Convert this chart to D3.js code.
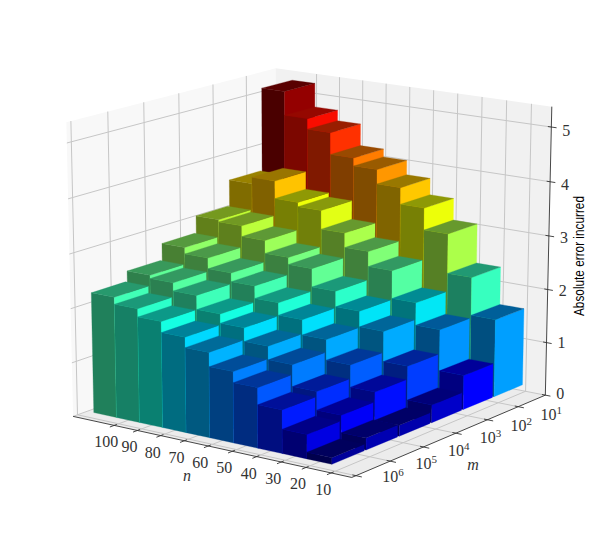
<!DOCTYPE html>
<html lang="en">
<head>
<meta charset="utf-8">
<title>Absolute error incurred</title>
<script src="https://d3js.org/d3.v7.min.js"></script>
<style>
  html, body { margin: 0; padding: 0; background: #fff; }
  svg { display: block; }
  text { font-family: "Liberation Serif", serif; fill: #333; }
</style>
</head>
<body>
<div id="my_dataviz"></div>
<script>
// chart values
var nValues = [10, 20, 30, 40, 50, 60, 70, 80, 90, 100];
var mValues = [1e6, 1e5, 1e4, 1e3, 1e2, 1e1];
var zTicks = [0, 1, 2, 3, 4, 5];

// one array per m, values in the order of nValues
var errM1e6 = [0.12, 0.44, 0.79, 1.10, 1.30, 1.56, 1.75, 1.95, 2.10, 2.23];
var errM1e5 = [0.22, 0.54, 0.88, 1.28, 1.53, 1.78, 1.95, 2.21, 2.36, 2.42];
var errM1e4 = [0.20, 0.72, 1.13, 1.51, 1.79, 2.02, 2.25, 2.41, 2.61, 2.73];
var errM1e3 = [0.33, 0.96, 1.52, 1.81, 2.10, 2.44, 2.57, 2.81, 3.01, 3.05];
var errM1e2 = [0.64, 1.41, 1.83, 2.35, 2.63, 2.90, 3.25, 3.33, 3.66, 3.54];
var errM1e1 = [1.46, 2.17, 2.91, 3.32, 3.63, 3.90, 4.05, 4.46, 4.66, 5.11];
var errors = [errM1e6, errM1e5, errM1e4, errM1e3, errM1e2, errM1e1];

var width = 607, height = 539;

// box coordinates run 0..1, u along n, v along m, w along the error
var uScale = d3.scaleLinear().domain([10, 100]).range([0.07, 0.845]);
var vScale = d3.scaleLog().domain([1e6, 1e1]).range([0.02, 0.85]);
var wScale = d3.scaleLinear().domain([0, 5.37]).range([0, 1]);
var screenX = d3.scaleLinear().domain([-1, 1]).range([311.7 - 342.7, 311.7 + 342.7]);
var screenY = d3.scaleLinear().domain([-1, 1]).range([262 + 303, 262 - 303]);

var barDu = uScale(20) - uScale(10);
var barDv = 0.157;
var barU0 = 0.045, barV0 = 0.046;

// camera
var elev = 16 * Math.PI / 180, phi = 36 * Math.PI / 180, dist = 10;
var se = Math.sin(elev), ce = Math.cos(elev), sp = Math.sin(phi), cp = Math.cos(phi);

function project(u, v, w) {
  var x = u - 0.5, y = v - 0.5, z = w - 0.5;
  var t = dist - (-sp * ce * x - cp * ce * y + se * z);
  var a = (-cp * x + sp * y) * dist / t;
  var b = (se * sp * x + se * cp * y + ce * z) * dist / t;
  return [screenX(a), screenY(b)];
}

var line = d3.line();
function poly(points) {
  return line(points.map(function(p) { return project(p[0], p[1], p[2]); })) + "Z";
}

// jet colormap
var jetR = d3.scaleLinear().domain([0, 0.35, 0.66, 0.89, 1]).range([0, 0, 1, 1, 0.5]);
var jetG = d3.scaleLinear().domain([0, 0.125, 0.375, 0.64, 0.91, 1]).range([0, 0, 1, 1, 0, 0]);
var jetB = d3.scaleLinear().domain([0, 0.11, 0.34, 0.65, 1]).range([0.5, 1, 1, 0, 0]);
var colorNorm = d3.scaleLinear().domain([0, 5.2]).range([0, 1]);

function jet(value, shade) {
  var t = colorNorm(value);
  return d3.rgb(255 * jetR(t) * shade, 255 * jetG(t) * shade, 255 * jetB(t) * shade).formatRgb();
}

var svg = d3.select("#my_dataviz").append("svg")
    .attr("width", width)
    .attr("height", height);

// walls and floor
var panes = [
  {fill: "#f8f8f8", pts: [[1, 0, 0], [1, 1, 0], [1, 1, 1], [1, 0, 1]]},
  {fill: "#f1f1f1", pts: [[0, 1, 0], [1, 1, 0], [1, 1, 1], [0, 1, 1]]},
  {fill: "#ececec", pts: [[0, 0, 0], [1, 0, 0], [1, 1, 0], [0, 1, 0]]}
];
svg.append("g").selectAll("path").data(panes).enter().append("path")
    .attr("d", function(d) { return poly(d.pts); })
    .attr("fill", function(d) { return d.fill; });

// grid
var gridLines = [];
nValues.forEach(function(n) {
  var u = uScale(n);
  gridLines.push([[u, 0, 0], [u, 1, 0]]);
  gridLines.push([[u, 1, 0], [u, 1, 1]]);
});
mValues.forEach(function(m) {
  var v = vScale(m);
  gridLines.push([[0, v, 0], [1, v, 0]]);
  gridLines.push([[1, v, 0], [1, v, 1]]);
});
zTicks.forEach(function(z) {
  var w = wScale(z);
  gridLines.push([[1, 0, w], [1, 1, w]]);
  gridLines.push([[0, 1, w], [1, 1, w]]);
});
svg.append("g").selectAll("path").data(gridLines).enter().append("path")
    .attr("d", function(d) { return line(d.map(function(p) { return project(p[0], p[1], p[2]); })); })
    .attr("fill", "none")
    .attr("stroke", "#c6c6c6")
    .attr("stroke-width", 1);

// axes
var axisLines = [
  [[0, 0, 0], [1, 0, 0]],
  [[0, 0, 0], [0, 1, 0]],
  [[0, 1, 0], [0, 1, 1]]
];
nValues.forEach(function(n) {
  axisLines.push([[uScale(n), -0.02, 0], [uScale(n), 0.012, 0]]);
});
mValues.forEach(function(m) {
  axisLines.push([[-0.02, vScale(m), 0], [0.012, vScale(m), 0]]);
});
zTicks.forEach(function(z) {
  axisLines.push([[-0.018, 1, wScale(z)], [0.012, 1, wScale(z)]]);
});
svg.append("g").selectAll("path").data(axisLines).enter().append("path")
    .attr("d", function(d) { return line(d.map(function(p) { return project(p[0], p[1], p[2]); })); })
    .attr("fill", "none")
    .attr("stroke", "#333")
    .attr("stroke-width", 0.9);

// bars, far ones first
var cells = [];
d3.range(nValues.length - 1, -1, -1).forEach(function(a) {
  d3.range(mValues.length - 1, -1, -1).forEach(function(b) {
    cells.push({n: nValues[a], m: mValues[b], value: errors[b][a]});
  });
});

var bars = svg.append("g").selectAll("g").data(cells).enter().append("g");

function corners(d) {
  var u0 = uScale(d.n) + barU0, u1 = u0 + barDu;
  var v0 = vScale(d.m) + barV0, v1 = v0 + barDv;
  var w = wScale(d.value);
  return {u0: u0, u1: u1, v0: v0, v1: v1, w: w};
}

function addFace(shade, pointsOf) {
  bars.append("path")
      .attr("d", function(d) { return poly(pointsOf(corners(d))); })
      .attr("fill", function(d) { return jet(d.value, shade); })
      .attr("stroke", function(d) { return jet(d.value, shade); })
      .attr("stroke-width", 0.3);
}

// face towards the left of the picture
addFace(0.5, function(c) { return [[c.u0, c.v0, 0], [c.u1, c.v0, 0], [c.u1, c.v0, c.w], [c.u0, c.v0, c.w]]; });
// face towards the right, full colour
addFace(1, function(c) { return [[c.u0, c.v0, 0], [c.u0, c.v1, 0], [c.u0, c.v1, c.w], [c.u0, c.v0, c.w]]; });
// top
addFace(0.6, function(c) { return [[c.u0, c.v0, c.w], [c.u1, c.v0, c.w], [c.u1, c.v1, c.w], [c.u0, c.v1, c.w]]; });

// tick labels
svg.append("g").selectAll("text").data(nValues).enter().append("text")
    .attr("x", function(n) { return project(uScale(n), 0, 0)[0] - 8; })
    .attr("y", function(n) { return project(uScale(n), 0, 0)[1] + 22; })
    .attr("text-anchor", "middle")
    .attr("font-size", 16)
    .text(function(n) { return n; });

var mLabels = svg.append("g").selectAll("text").data(mValues).enter().append("text")
    .attr("x", function(m) { return project(0, vScale(m), 0)[0] + 33 + 0.8 * (Math.log10(m) - 1); })
    .attr("y", function(m) { return project(0, vScale(m), 0)[1] + 13 - 1.4 * (Math.log10(m) - 1); })
    .attr("text-anchor", "middle")
    .attr("font-size", 16);
mLabels.append("tspan").text("10");
mLabels.append("tspan")
    .attr("dy", -6)
    .attr("font-size", 11)
    .text(function(m) { return Math.round(Math.log10(m)); });

svg.append("g").selectAll("text").data(zTicks).enter().append("text")
    .attr("x", function(z) { return project(0, 1, wScale(z))[0] + 15; })
    .attr("y", function(z) { return project(0, 1, wScale(z))[1] + 4 + z; })
    .attr("text-anchor", "middle")
    .attr("font-size", 16)
    .text(function(z) { return z; });

// axis labels
svg.append("text")
    .attr("x", 187).attr("y", 481)
    .attr("text-anchor", "middle")
    .attr("font-size", 16)
    .attr("font-style", "italic")
    .text("n");
svg.append("text")
    .attr("x", 473).attr("y", 470)
    .attr("text-anchor", "middle")
    .attr("font-size", 16)
    .attr("font-style", "italic")
    .text("m");
svg.append("text")
    .attr("transform", "translate(584,256) rotate(-90)")
    .attr("text-anchor", "middle")
    .attr("font-size", 15)
    .attr("textLength", 120)
    .attr("lengthAdjust", "spacingAndGlyphs")
    .style("font-family", "'Liberation Sans', sans-serif")
    .style("fill", "#000")
    .text("Absolute error incurred");
</script>
</body>
</html>
